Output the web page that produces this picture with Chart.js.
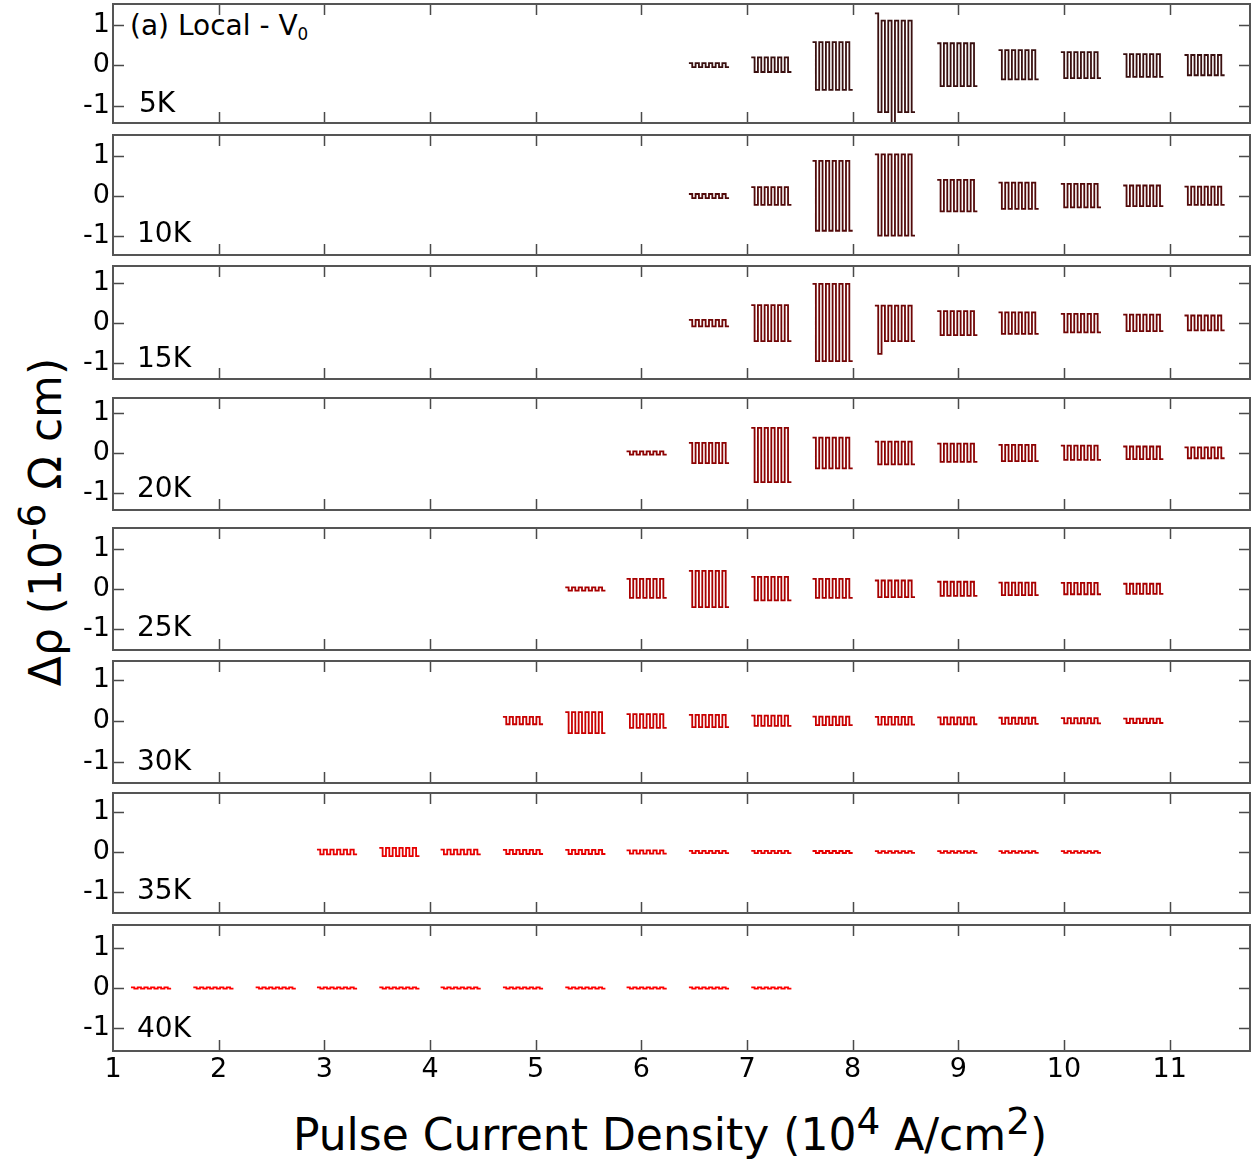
<!DOCTYPE html>
<html>
<head>
<meta charset="utf-8">
<script src="https://cdn.jsdelivr.net/npm/chart.js@4.4.1/dist/chart.umd.min.js"></script>
<style>
  body { margin: 0; background: #fff; }
  #wrap { position: relative; width: 1255px; height: 1166px; background: #fff; font-family: "DejaVu Sans", sans-serif; color: #000; }
  canvas { position: absolute; left: 0; }
  .lbl { position: absolute; font-size: 28px; line-height: 1; white-space: nowrap; }
  .up { position: relative; top: -0.42em; font-size: 0.85em; }
  .dn { position: relative; top: 0.3em; font-size: 0.6em; }
</style>
</head>
<body>
<div id="wrap">
  <div class="lbl" style="left:130px; top:12px;">(a) Local - V<span class="dn">0</span></div>
  <div class="lbl" style="left:670px; top:1113px; font-size:44px; transform:translateX(-50%);">Pulse Current Density (10<span class="up">4</span> A/cm<span class="up">2</span>)</div>
  <div class="lbl" style="left:46px; top:522px; font-size:44px; transform:translate(-50%,-50%) rotate(-90deg);">&Delta;&rho; (10<span class="up">-6</span> &Omega; cm)</div>
</div>
<script>
// x positions of the pulse bursts (10^4 A/cm^2)
const burstX = [1.36, 1.95, 2.54, 3.12, 3.71, 4.29, 4.88, 5.47, 6.05, 6.64, 7.23, 7.81, 8.40, 8.99, 9.57, 10.16, 10.75, 11.33];
const xTicks = [1, 2, 3, 4, 5, 6, 7, 8, 9, 10, 11];
const yTicks = [-1, 0, 1];
// one pulse train: up/down levels of the square wave
const wave = [1, -1, 1, -1, 1, -1, 1, -1, 1, -1, 1, -1];

const temps = ['5K', '10K', '15K', '20K', '25K', '30K', '35K', '40K'];
const firstBurst = [9, 9, 9, 8, 7, 6, 3, 0];

// upper / lower level of each burst (10^-6 ohm cm)
const hi5K = [0.05, 0.19, 0.57, 1.10, 0.54, 0.37, 0.32, 0.27, 0.25];
const lo5K = [-0.05, -0.17, -0.61, -1.16, -0.52, -0.35, -0.32, -0.29, -0.25];
const hi10K = [0.05, 0.22, 0.87, 1.03, 0.40, 0.33, 0.30, 0.26, 0.23];
const lo10K = [-0.05, -0.22, -0.86, -0.98, -0.38, -0.32, -0.28, -0.25, -0.22];
const hi15K = [0.08, 0.45, 0.98, 0.44, 0.30, 0.27, 0.23, 0.21, 0.19];
const lo15K = [-0.08, -0.45, -0.95, -0.45, -0.30, -0.27, -0.23, -0.20, -0.18];
const hi20K = [0.04, 0.25, 0.62, 0.38, 0.28, 0.23, 0.20, 0.18, 0.16, 0.14];
const lo20K = [-0.04, -0.25, -0.72, -0.38, -0.28, -0.22, -0.20, -0.17, -0.15, -0.13];
const hi25K = [0.04, 0.25, 0.45, 0.30, 0.25, 0.21, 0.18, 0.16, 0.15, 0.13];
const lo25K = [-0.04, -0.22, -0.45, -0.28, -0.22, -0.20, -0.17, -0.15, -0.13, -0.12];
const hi30K = [0.10, 0.22, 0.17, 0.15, 0.13, 0.11, 0.10, 0.09, 0.08, 0.07, 0.06];
const lo30K = [-0.08, -0.30, -0.17, -0.15, -0.12, -0.10, -0.09, -0.08, -0.07, -0.06, -0.05];
const hi35K = [0.06, 0.10, 0.06, 0.05, 0.05, 0.04, 0.03, 0.03, 0.025, 0.02, 0.02, 0.02, 0.02];
const lo35K = [-0.06, -0.10, -0.06, -0.05, -0.05, -0.04, -0.03, -0.03, -0.025, -0.02, -0.02, -0.02, -0.02];
const hi40K = [0.015, 0.015, 0.015, 0.015, 0.015, 0.015, 0.015, 0.015, 0.015, 0.015, 0.015];
const lo40K = [-0.015, -0.015, -0.015, -0.015, -0.015, -0.015, -0.015, -0.015, -0.015, -0.015, -0.015];

// odd single points: panel, burst (within panel), step in the wave, value
const oddPanel = [0, 0, 2];
const oddBurst = [3, 3, 3];
const oddStep = [0, 5, 1];
const oddValue = [1.28, -1.45, -0.77];

const his = [hi5K, hi10K, hi15K, hi20K, hi25K, hi30K, hi35K, hi40K];
const los = [lo5K, lo10K, lo15K, lo20K, lo25K, lo30K, lo35K, lo40K];
const colors = ['#3a1010', '#520a0a', '#700606', '#8c0202', '#a80000', '#c80000', '#e60000', '#ff0000'];

// panel frames (page pixels) and y ranges
const panelTop = [4, 135, 266, 398, 528, 661, 793, 925];
const panelBottom = [123, 255, 379, 510, 650, 783, 913, 1051];
const yMaxs = [1.51, 1.51, 1.43, 1.36, 1.51, 1.48, 1.46, 1.56];
const yMins = [-1.43, -1.46, -1.40, -1.41, -1.51, -1.53, -1.51, -1.56];
const labelY = [103, 233, 358, 488, 627, 761, 890, 1028];

function buildLine(p) {
    const pts = [];
    const w = 0.38 / wave.length;
    his[p].forEach((h, i) => {
        const c = burstX[firstBurst[p] + i];
        wave.forEach((s, j) => {
            const x0 = c - 0.19 + j * w;
            let y = s > 0 ? h : los[p][i];
            oddPanel.forEach((op, k) => {
                if (op === p && oddBurst[k] === i && oddStep[k] === j) y = oddValue[k];
            });
            pts.push({ x: x0, y: y }, { x: x0 + w, y: y });
        });
        pts.push({ x: c + 0.25, y: null });  // break between bursts
    });
    return pts;
}

const framePlugin = {
    id: 'frame',
    afterDraw(chart) {
        const { ctx, chartArea: a, scales } = chart;
        ctx.save();
        ctx.strokeStyle = '#4a4a4a';
        ctx.lineWidth = 1.5;
        ctx.beginPath();
        xTicks.slice(1).forEach(v => {
            const px = Math.round(scales.x.getPixelForValue(v)) + 0.5;
            ctx.moveTo(px, a.top); ctx.lineTo(px, a.top + 11);
            ctx.moveTo(px, a.bottom); ctx.lineTo(px, a.bottom - 11);
        });
        yTicks.forEach(v => {
            const py = Math.round(scales.y.getPixelForValue(v)) + 0.5;
            ctx.moveTo(a.left, py); ctx.lineTo(a.left + 11, py);
            ctx.moveTo(a.right, py); ctx.lineTo(a.right - 11, py);
        });
        ctx.stroke();
        ctx.strokeStyle = '#555';
        ctx.lineWidth = 2;
        ctx.strokeRect(a.left, a.top, a.right - a.left, a.bottom - a.top);
        ctx.restore();
    }
};

const wrap = document.getElementById('wrap');
temps.forEach((t, p) => {
    const last = p === temps.length - 1;
    const cv = document.createElement('canvas');
    const h = panelBottom[p] - panelTop[p] + 2 + (last ? 44 : 2);
    cv.width = 1255; cv.height = h;
    cv.style.top = (panelTop[p] - 2) + 'px';
    cv.style.width = '1255px'; cv.style.height = h + 'px';
    wrap.appendChild(cv);

    const lab = document.createElement('div');
    lab.className = 'lbl';
    lab.style.left = (p === 0 ? 139 : 137) + 'px';
    lab.style.top = (labelY[p] - 14) + 'px';
    lab.textContent = t;
    wrap.appendChild(lab);

    new Chart(cv.getContext('2d'), {
        type: 'line',
        data: {
            datasets: [{
                label: t,
                data: buildLine(p),
                borderColor: colors[p],
                borderWidth: 1.8,
                pointRadius: 0,
                tension: 0,
                spanGaps: false
            }]
        },
        options: {
            responsive: false,
            maintainAspectRatio: false,
            animation: false,
            events: [],
            layout: { padding: { left: 0, right: 5, top: 2, bottom: last ? 0 : 2 } },
            plugins: { legend: { display: false }, tooltip: { enabled: false } },
            scales: {
                x: {
                    type: 'linear',
                    min: 1, max: 11.76,
                    display: last,
                    afterBuildTicks: s => { s.ticks = xTicks.map(v => ({ value: v })); },
                    afterFit: s => {
                        if (last) s.height = 44;
                        s.paddingLeft = 0; s.paddingRight = 0;
                    },
                    grid: { display: false, drawTicks: false },
                    border: { display: false },
                    ticks: { color: '#000', padding: 3, maxRotation: 0, autoSkip: false, font: { family: 'DejaVu Sans', size: 27 } }
                },
                y: {
                    min: yMins[p], max: yMaxs[p],
                    afterBuildTicks: s => { s.ticks = yTicks.map(v => ({ value: v })); },
                    afterFit: s => { s.width = 113; s.paddingTop = 0; s.paddingBottom = 0; },
                    grid: { display: false, drawTicks: false },
                    border: { display: false },
                    ticks: { color: '#000', padding: 3, font: { family: 'DejaVu Sans', size: 27, lineHeight: 1 } }
                }
            }
        },
        plugins: [framePlugin]
    });
});
</script>
</body>
</html>
